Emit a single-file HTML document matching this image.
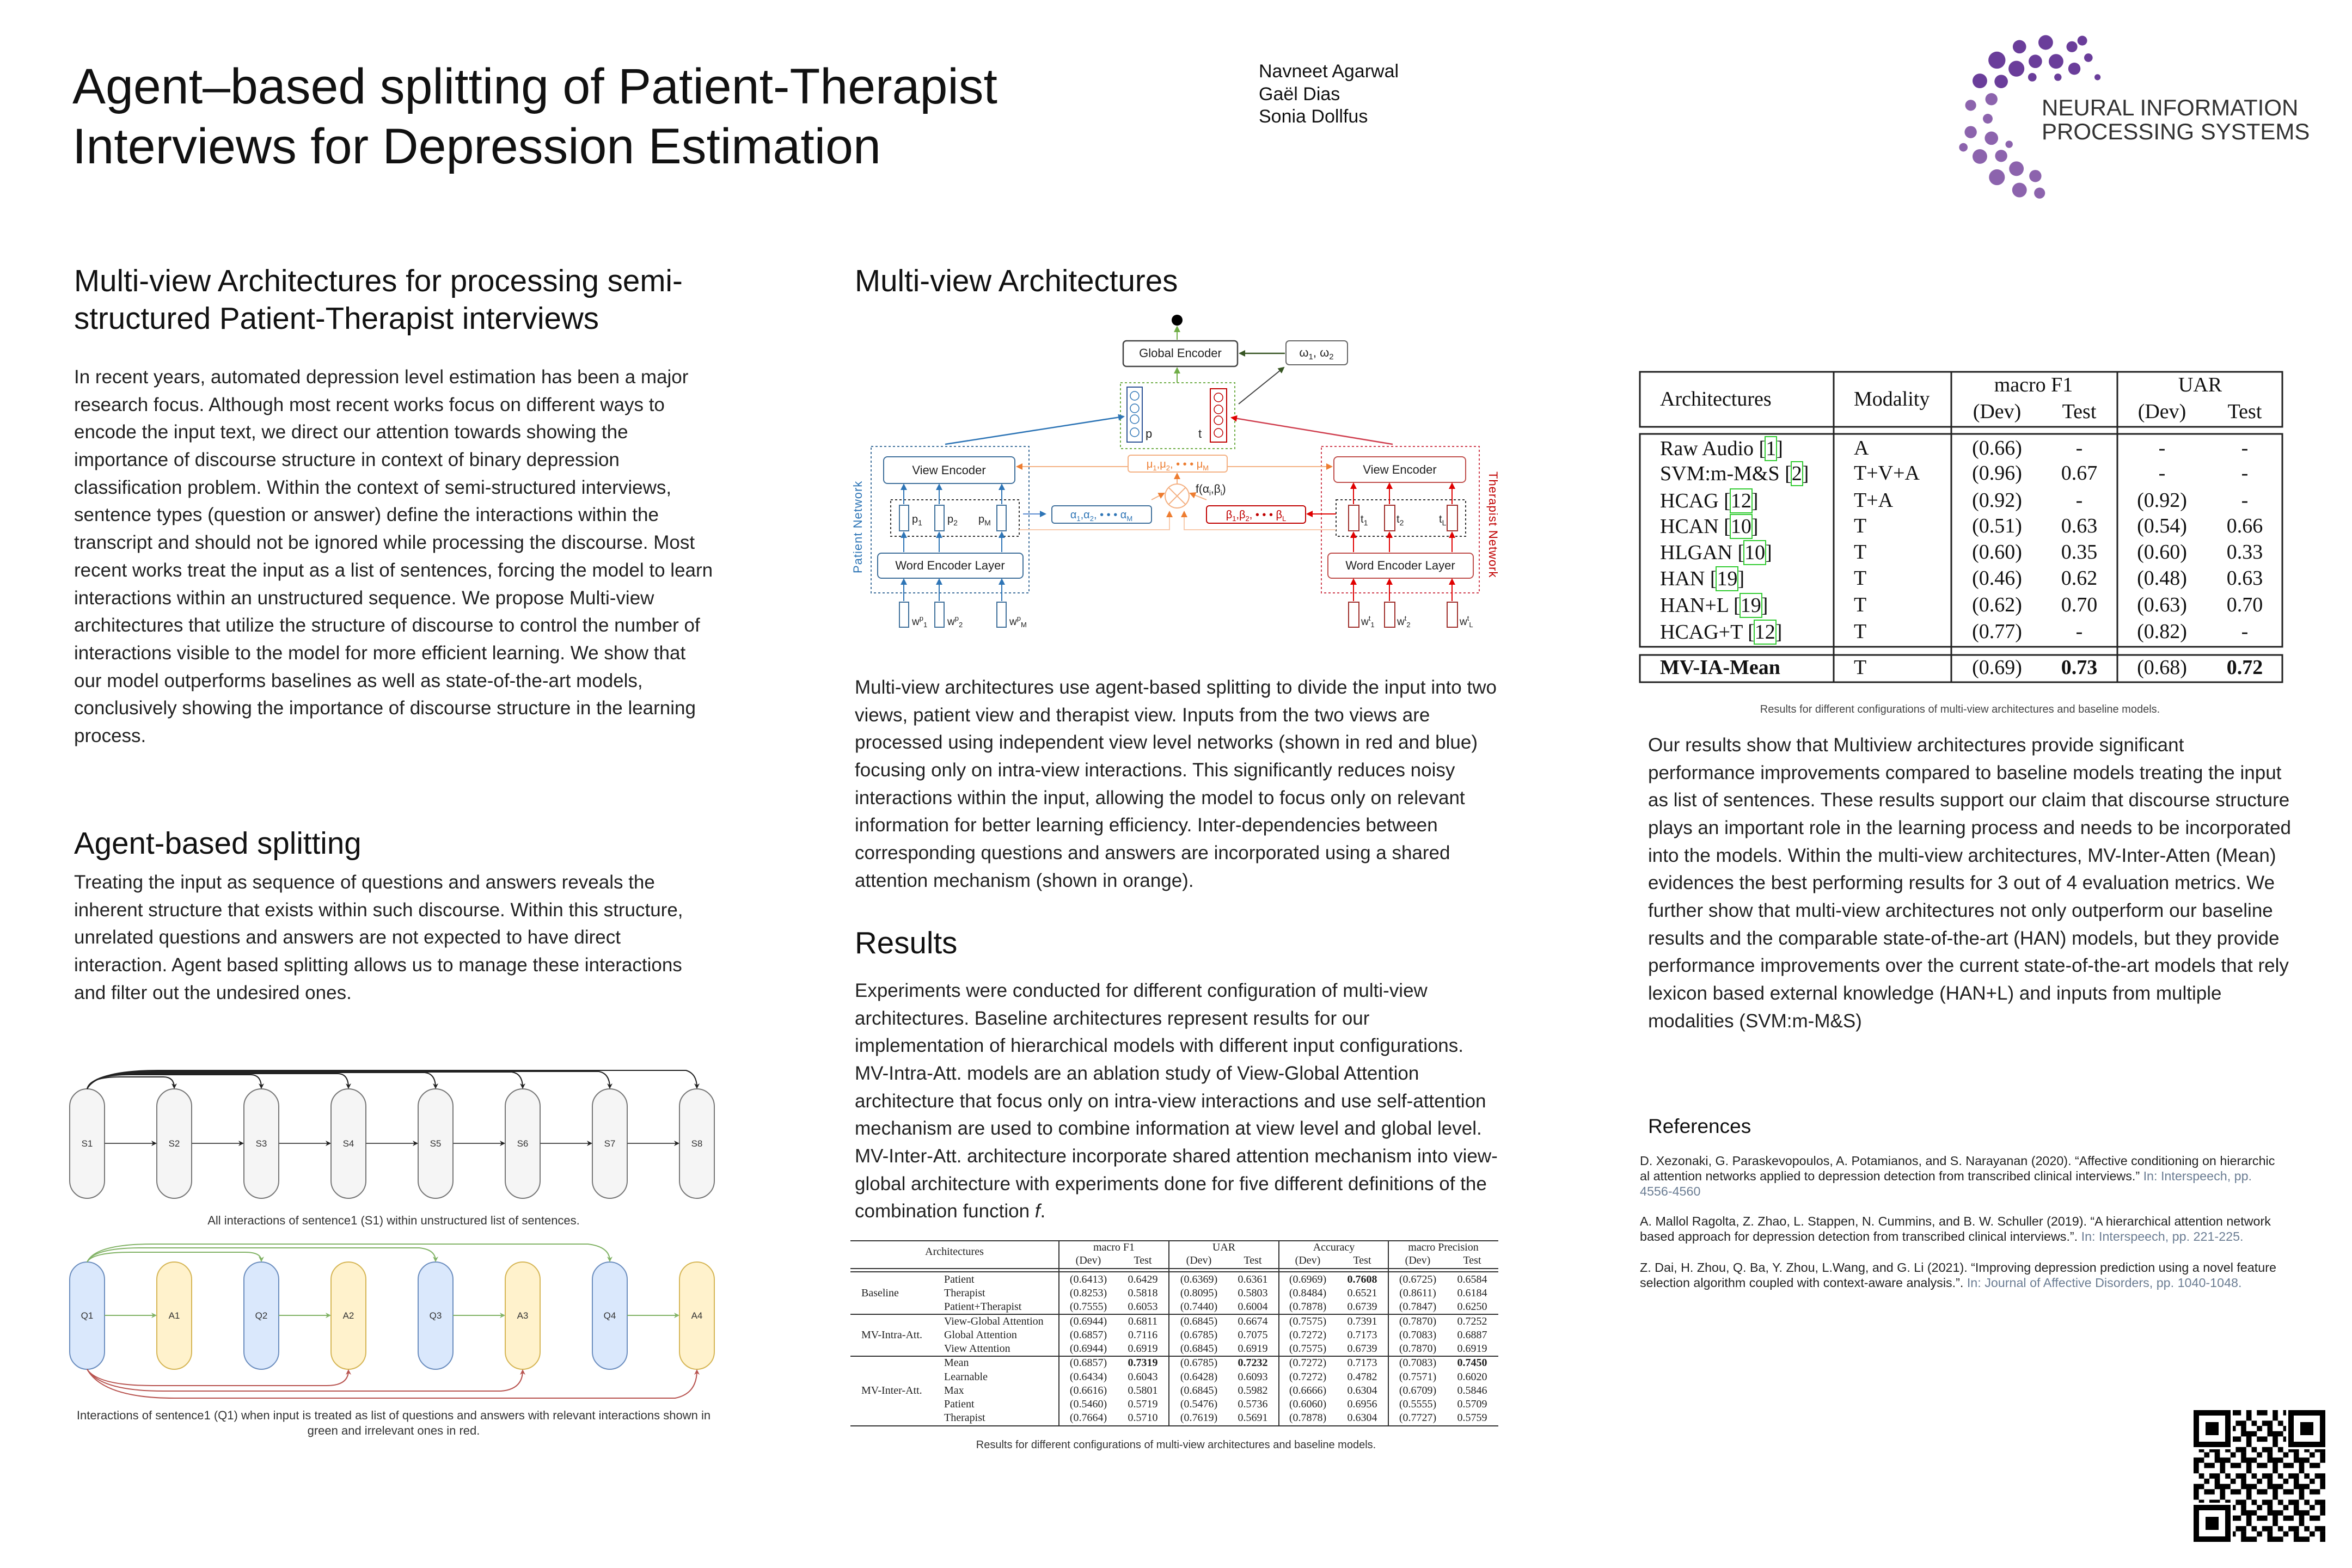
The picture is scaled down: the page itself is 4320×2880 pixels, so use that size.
<!DOCTYPE html>
<html><head><meta charset="utf-8">
<style>
html,body{margin:0;padding:0;background:#fff;}
#wrap{position:relative;width:4320px;height:2880px;overflow:hidden;background:#fff;}
svg{position:absolute;left:0;top:0;}
.nm{position:absolute;font-family:"Liberation Serif",serif;font-size:38px;color:#111;white-space:nowrap;line-height:1;}
.nm span{outline:2px solid #33cc33;outline-offset:0px;}
</style></head><body><div id="wrap">
<svg width="4320" height="2880" viewBox="0 0 4320 2880" xmlns="http://www.w3.org/2000/svg">
<defs>
<marker id="ak" markerWidth="10" markerHeight="10" refX="8" refY="5" orient="auto" markerUnits="userSpaceOnUse"><path d="M0,0 L10,5 L0,10 L3,5 z" fill="#222"/></marker>
<marker id="ag" markerWidth="10" markerHeight="10" refX="8" refY="5" orient="auto" markerUnits="userSpaceOnUse"><path d="M0,0 L10,5 L0,10 L3,5 z" fill="#82b366"/></marker>
<marker id="ar" markerWidth="10" markerHeight="10" refX="8" refY="5" orient="auto" markerUnits="userSpaceOnUse"><path d="M0,0 L10,5 L0,10 L3,5 z" fill="#b85450"/></marker>
<marker id="mb" markerWidth="12" markerHeight="12" refX="10" refY="6" orient="auto" markerUnits="userSpaceOnUse"><path d="M0,0 L12,6 L0,12 z" fill="#2e75b6"/></marker>
<marker id="mr" markerWidth="12" markerHeight="12" refX="10" refY="6" orient="auto" markerUnits="userSpaceOnUse"><path d="M0,0 L12,6 L0,12 z" fill="#e00000"/></marker>
<marker id="mo" markerWidth="12" markerHeight="12" refX="10" refY="6" orient="auto" markerUnits="userSpaceOnUse"><path d="M0,0 L12,6 L0,12 z" fill="#ed7d31"/></marker>
<marker id="mg" markerWidth="12" markerHeight="12" refX="10" refY="6" orient="auto" markerUnits="userSpaceOnUse"><path d="M0,0 L12,6 L0,12 z" fill="#70ad47"/></marker>
<marker id="md" markerWidth="12" markerHeight="12" refX="10" refY="6" orient="auto" markerUnits="userSpaceOnUse"><path d="M0,0 L12,6 L0,12 z" fill="#375623"/></marker>
<pattern id="qr" x="4029" y="2590" width="48.4" height="48.4" patternUnits="userSpaceOnUse">
<rect x="0" y="0" width="9.7" height="19.4" fill="#000"/><rect x="19.4" y="0" width="19.4" height="9.7" fill="#000"/>
<rect x="9.7" y="19.4" width="9.7" height="9.7" fill="#000"/><rect x="29" y="19.4" width="19.4" height="9.7" fill="#000"/>
<rect x="0" y="38.7" width="19.4" height="9.7" fill="#000"/><rect x="38.7" y="29" width="9.7" height="19.4" fill="#000"/>
<rect x="19.4" y="29" width="9.7" height="9.7" fill="#000"/>
</pattern>
</defs>

<g font-family="Liberation Sans, sans-serif" fill="#111">
<text x="133" y="190" font-size="91.5">Agent–based splitting of Patient-Therapist</text>
<text x="133" y="300" font-size="91.5">Interviews for Depression Estimation</text>
<text x="2312" y="142" font-size="34">Navneet Agarwal</text>
<text x="2312" y="184" font-size="34">Gaël Dias</text>
<text x="2312" y="225" font-size="34">Sonia Dollfus</text>
</g>

<!-- Logo -->
<g transform="translate(-45,0) translate(3780,218) scale(1.12) translate(-3780,-218)">
<g fill="#6a3d9a">
<circle cx="3847" cy="136" r="10"/><circle cx="3817" cy="124" r="12"/><circle cx="3783" cy="124" r="11"/><circle cx="3752" cy="136" r="13"/>
<circle cx="3843" cy="100" r="9"/><circle cx="3800" cy="93" r="12"/><circle cx="3757" cy="100" r="11"/><circle cx="3720" cy="122" r="14"/>
<circle cx="3870" cy="118" r="7"/><circle cx="3885" cy="150" r="5"/><circle cx="3860" cy="90" r="8"/><circle cx="3727" cy="157" r="11"/>
<circle cx="3692" cy="156" r="12"/><circle cx="3778" cy="150" r="7"/><circle cx="3820" cy="150" r="6"/>
</g>
<g fill="#8c63ad">
<circle cx="3711" cy="186" r="10"/><circle cx="3677" cy="196" r="9"/><circle cx="3705" cy="218" r="8"/><circle cx="3677" cy="240" r="10"/>
<circle cx="3711" cy="250" r="11"/><circle cx="3692" cy="280" r="12"/><circle cx="3727" cy="279" r="10"/><circle cx="3720" cy="314" r="13"/>
<circle cx="3752" cy="300" r="12"/><circle cx="3757" cy="335" r="12"/><circle cx="3783" cy="312" r="10"/><circle cx="3740" cy="260" r="6"/>
<circle cx="3665" cy="265" r="7"/><circle cx="3790" cy="340" r="9"/>
</g>
</g>
<g font-family="Liberation Sans, sans-serif" font-size="42" fill="#333">
<text x="3750" y="212">NEURAL INFORMATION</text>
<text x="3750" y="256">PROCESSING SYSTEMS</text>
</g>

<g font-family="Liberation Sans, sans-serif" fill="#111">
<text x="136" y="535" font-size="56.5">Multi-view Architectures for processing semi-</text>
<text x="136" y="604" font-size="56.5">structured Patient-Therapist interviews</text>
<text x="136" y="1568" font-size="56.5">Agent-based splitting</text>
<text x="1570" y="535" font-size="56.5">Multi-view Architectures</text>
<text x="1570" y="1751" font-size="56.5">Results</text>
<text x="3027" y="2081" font-size="37">References</text>
</g>
<g font-family="Liberation Sans, sans-serif" font-size="35" fill="#222">
<text x="136" y="704">In recent years, automated depression level estimation has been a major</text>
<text x="136" y="755">research focus. Although most recent works focus on different ways to</text>
<text x="136" y="805">encode the input text, we direct our attention towards showing the</text>
<text x="136" y="856">importance of discourse structure in context of binary depression</text>
<text x="136" y="907">classification problem. Within the context of semi-structured interviews,</text>
<text x="136" y="957">sentence types (question or answer) define the interactions within the</text>
<text x="136" y="1008">transcript and should not be ignored while processing the discourse. Most</text>
<text x="136" y="1059">recent works treat the input as a list of sentences, forcing the model to learn</text>
<text x="136" y="1110">interactions within an unstructured sequence. We propose Multi-view</text>
<text x="136" y="1160">architectures that utilize the structure of discourse to control the number of</text>
<text x="136" y="1211">interactions visible to the model for more efficient learning. We show that</text>
<text x="136" y="1262">our model outperforms baselines as well as state-of-the-art models,</text>
<text x="136" y="1312">conclusively showing the importance of discourse structure in the learning</text>
<text x="136" y="1363">process.</text>

<text x="136" y="1632">Treating the input as sequence of questions and answers reveals the</text>
<text x="136" y="1683">inherent structure that exists within such discourse. Within this structure,</text>
<text x="136" y="1733">unrelated questions and answers are not expected to have direct</text>
<text x="136" y="1784">interaction. Agent based splitting allows us to manage these interactions</text>
<text x="136" y="1835">and filter out the undesired ones.</text>

<text x="1570" y="1274">Multi-view architectures use agent-based splitting to divide the input into two</text>
<text x="1570" y="1325">views, patient view and therapist view. Inputs from the two views are</text>
<text x="1570" y="1375">processed using independent view level networks (shown in red and blue)</text>
<text x="1570" y="1426">focusing only on intra-view interactions. This significantly reduces noisy</text>
<text x="1570" y="1477">interactions within the input, allowing the model to focus only on relevant</text>
<text x="1570" y="1527">information for better learning efficiency. Inter-dependencies between</text>
<text x="1570" y="1578">corresponding questions and answers are incorporated using a shared</text>
<text x="1570" y="1629">attention mechanism (shown in orange).</text>

<text x="1570" y="1831">Experiments were conducted for different configuration of multi-view</text>
<text x="1570" y="1882">architectures. Baseline architectures represent results for our</text>
<text x="1570" y="1932">implementation of hierarchical models with different input configurations.</text>
<text x="1570" y="1983">MV-Intra-Att. models are an ablation study of View-Global Attention</text>
<text x="1570" y="2034">architecture that focus only on intra-view interactions and use self-attention</text>
<text x="1570" y="2084">mechanism are used to combine information at view level and global level.</text>
<text x="1570" y="2135">MV-Inter-Att. architecture incorporate shared attention mechanism into view-</text>
<text x="1570" y="2186">global architecture with experiments done for five different definitions of the</text>
<text x="1570" y="2236">combination function <tspan font-style="italic">f</tspan>.</text>

<text x="3027" y="1380">Our results show that Multiview architectures provide significant</text>
<text x="3027" y="1431">performance improvements compared to baseline models treating the input</text>
<text x="3027" y="1481">as list of sentences. These results support our claim that discourse structure</text>
<text x="3027" y="1532">plays an important role in the learning process and needs to be incorporated</text>
<text x="3027" y="1583">into the models. Within the multi-view architectures, MV-Inter-Atten (Mean)</text>
<text x="3027" y="1633">evidences the best performing results for 3 out of 4 evaluation metrics. We</text>
<text x="3027" y="1684">further show that multi-view architectures not only outperform our baseline</text>
<text x="3027" y="1735">results and the comparable state-of-the-art (HAN) models, but they provide</text>
<text x="3027" y="1785">performance improvements over the current state-of-the-art models that rely</text>
<text x="3027" y="1836">lexicon based external knowledge (HAN+L) and inputs from multiple</text>
<text x="3027" y="1887">modalities (SVM:m-M&amp;S)</text>
</g>

<g font-family="Liberation Sans, sans-serif" font-size="23.3" fill="#222">
<text x="3012" y="2140">D. Xezonaki, G. Paraskevopoulos, A. Potamianos, and S. Narayanan (2020). “Affective conditioning on hierarchic</text>
<text x="3012" y="2168">al attention networks applied to depression detection from transcribed clinical interviews.” <tspan fill="#6b7d93">In: Interspeech, pp.</tspan></text>
<text x="3012" y="2196" fill="#6b7d93">4556-4560</text>
<text x="3012" y="2251">A. Mallol Ragolta, Z. Zhao, L. Stappen, N. Cummins, and B. W. Schuller (2019). “A hierarchical attention network</text>
<text x="3012" y="2279">based approach for depression detection from transcribed clinical interviews.”. <tspan fill="#6b7d93">In: Interspeech, pp. 221-225.</tspan></text>
<text x="3012" y="2336">Z. Dai, H. Zhou, Q. Ba, Y. Zhou, L.Wang, and G. Li (2021). “Improving depression prediction using a novel feature</text>
<text x="3012" y="2364">selection algorithm coupled with context-aware analysis.”. <tspan fill="#6b7d93">In: Journal of Affective Disorders, pp. 1040-1048.</tspan></text>
</g>

<rect x="4029" y="2590" width="242" height="242" fill="url(#qr)"/>
<g>
<rect x="4029" y="2590" width="72" height="72" fill="#fff"/><rect x="4199" y="2590" width="72" height="72" fill="#fff"/><rect x="4029" y="2760" width="72" height="72" fill="#fff"/>
<rect x="4034" y="2595" width="58" height="58" fill="none" stroke="#000" stroke-width="10"/><rect x="4051" y="2612" width="24" height="24" fill="#000"/>
<rect x="4208" y="2595" width="58" height="58" fill="none" stroke="#000" stroke-width="10"/><rect x="4225" y="2612" width="24" height="24" fill="#000"/>
<rect x="4034" y="2769" width="58" height="58" fill="none" stroke="#000" stroke-width="10"/><rect x="4051" y="2786" width="24" height="24" fill="#000"/>
</g>

<g font-family="Liberation Sans, sans-serif" font-size="17" fill="#333" text-anchor="middle">
<g fill="#f5f5f5" stroke="#777" stroke-width="2">
<rect x="128" y="2000" width="64" height="201" rx="32"/><rect x="288" y="2000" width="64" height="201" rx="32"/>
<rect x="448" y="2000" width="64" height="201" rx="32"/><rect x="608" y="2000" width="64" height="201" rx="32"/>
<rect x="768" y="2000" width="64" height="201" rx="32"/><rect x="928" y="2000" width="64" height="201" rx="32"/>
<rect x="1088" y="2000" width="64" height="201" rx="32"/><rect x="1248" y="2000" width="64" height="201" rx="32"/>
</g>
<text x="160" y="2106">S1</text><text x="320" y="2106">S2</text><text x="480" y="2106">S3</text><text x="640" y="2106">S4</text>
<text x="800" y="2106">S5</text><text x="960" y="2106">S6</text><text x="1120" y="2106">S7</text><text x="1280" y="2106">S8</text>
<g stroke="#555" stroke-width="2" fill="none" marker-end="url(#ak)">
<path d="M192 2100 H286"/><path d="M352 2100 H446"/><path d="M512 2100 H606"/><path d="M672 2100 H766"/>
<path d="M832 2100 H926"/><path d="M992 2100 H1086"/><path d="M1152 2100 H1246"/>
</g>
<g stroke="#222" stroke-width="2" fill="none" marker-end="url(#ak)">
<path d="M160 2000 Q165 1978 220 1978 L300 1978 Q320 1978 320 1998"/>
<path d="M160 2000 Q168 1974 240 1974 L460 1974 Q480 1974 480 1998"/>
<path d="M160 2000 Q170 1972 250 1972 L620 1972 Q640 1972 640 1998"/>
<path d="M160 2000 Q172 1970 260 1970 L780 1970 Q800 1972 800 1998"/>
<path d="M160 2000 Q174 1969 270 1969 L940 1969 Q960 1972 960 1998"/>
<path d="M160 2000 Q176 1968 280 1968 L1100 1968 Q1120 1972 1120 1998"/>
<path d="M160 2000 Q178 1966 290 1966 L1260 1966 Q1280 1972 1280 1998"/>
</g>
<text x="723" y="2249" font-size="22">All interactions of sentence1 (S1) within unstructured list of sentences.</text>

<g stroke-width="2">
<rect x="128" y="2318" width="64" height="197" rx="32" fill="#dae8fc" stroke="#6c8ebf"/>
<rect x="288" y="2318" width="64" height="197" rx="32" fill="#fff2cc" stroke="#d6b656"/>
<rect x="448" y="2318" width="64" height="197" rx="32" fill="#dae8fc" stroke="#6c8ebf"/>
<rect x="608" y="2318" width="64" height="197" rx="32" fill="#fff2cc" stroke="#d6b656"/>
<rect x="768" y="2318" width="64" height="197" rx="32" fill="#dae8fc" stroke="#6c8ebf"/>
<rect x="928" y="2318" width="64" height="197" rx="32" fill="#fff2cc" stroke="#d6b656"/>
<rect x="1088" y="2318" width="64" height="197" rx="32" fill="#dae8fc" stroke="#6c8ebf"/>
<rect x="1248" y="2318" width="64" height="197" rx="32" fill="#fff2cc" stroke="#d6b656"/>
</g>
<text x="160" y="2422">Q1</text><text x="320" y="2422">A1</text><text x="480" y="2422">Q2</text><text x="640" y="2422">A2</text>
<text x="800" y="2422">Q3</text><text x="960" y="2422">A3</text><text x="1120" y="2422">Q4</text><text x="1280" y="2422">A4</text>
<g stroke="#82b366" stroke-width="2" fill="none" marker-end="url(#ag)">
<path d="M192 2416 H286"/><path d="M512 2416 H606"/><path d="M832 2416 H926"/><path d="M1152 2416 H1246"/>
<path d="M160 2318 Q170 2300 240 2300 L450 2300 Q480 2300 480 2316"/>
<path d="M160 2318 Q172 2292 260 2292 L770 2292 Q800 2295 800 2316"/>
<path d="M160 2318 Q175 2285 280 2285 L1080 2285 Q1120 2290 1120 2316"/>
</g>
<g stroke="#b85450" stroke-width="2" fill="none" marker-end="url(#ar)">
<path d="M160 2515 Q180 2545 280 2545 L600 2545 Q640 2545 640 2517"/>
<path d="M160 2515 Q185 2555 300 2555 L920 2555 Q960 2552 960 2517"/>
<path d="M160 2515 Q190 2568 320 2568 L1240 2568 Q1280 2560 1280 2517"/>
</g>
<text x="723" y="2607" font-size="22">Interactions of sentence1 (Q1) when input is treated as list of questions and answers with relevant interactions shown in</text>
<text x="723" y="2635" font-size="22">green and irrelevant ones in red.</text>
</g>

<g font-family="Liberation Sans, sans-serif" font-size="22" fill="#222">
<circle cx="2162" cy="588" r="10" fill="#000"/>
<line x1="2162" y1="624" x2="2162" y2="600" stroke="#70ad47" stroke-width="2" marker-end="url(#mg)"/>
<rect x="2063" y="626" width="210" height="47" rx="6" fill="#fff" stroke="#444" stroke-width="2.5"/>
<text x="2168" y="656" text-anchor="middle">Global Encoder</text>
<rect x="2362" y="626" width="113" height="44" rx="6" fill="#fff" stroke="#666" stroke-width="2"/>
<text x="2418" y="655" text-anchor="middle">ω<tspan font-size="15" dy="5">1</tspan><tspan dy="-5">, ω</tspan><tspan font-size="15" dy="5">2</tspan></text>
<line x1="2360" y1="649" x2="2277" y2="649" stroke="#375623" stroke-width="2.5" marker-end="url(#md)"/>
<line x1="2162" y1="703" x2="2162" y2="676" stroke="#70ad47" stroke-width="2" marker-end="url(#mg)"/>
<rect x="2058" y="703" width="210" height="121" fill="none" stroke="#70ad47" stroke-width="2" stroke-dasharray="4 4"/>
<rect x="2070" y="711" width="28" height="101" fill="none" stroke="#2f5597" stroke-width="2"/>
<g fill="none" stroke="#2e75b6" stroke-width="1.5"><circle cx="2084" cy="727" r="8"/><circle cx="2084" cy="750" r="8"/><circle cx="2084" cy="770" r="8"/><circle cx="2084" cy="794" r="8"/></g>
<rect x="2223" y="714" width="30" height="98" fill="none" stroke="#c00000" stroke-width="2"/>
<g fill="none" stroke="#c00000" stroke-width="1.5"><circle cx="2238" cy="730" r="8"/><circle cx="2238" cy="752" r="8"/><circle cx="2238" cy="772" r="8"/><circle cx="2238" cy="795" r="8"/></g>
<text x="2104" y="804">p</text><text x="2201" y="804">t</text>
<line x1="2275" y1="742" x2="2358" y2="675" stroke="#444" stroke-width="2" marker-end="url(#md)"/>
<line x1="1736" y1="816" x2="2064" y2="765" stroke="#2e75b6" stroke-width="2.5" marker-end="url(#mb)"/>
<line x1="2558" y1="816" x2="2262" y2="767" stroke="#d04050" stroke-width="2.5" marker-end="url(#mr)"/>

<rect x="1600" y="820" width="290" height="269" fill="none" stroke="#41719c" stroke-width="2" stroke-dasharray="4 4"/>
<rect x="1623" y="839" width="241" height="49" rx="7" fill="#fff" stroke="#41719c" stroke-width="2"/>
<text x="1743" y="871" text-anchor="middle">View Encoder</text>
<rect x="1636" y="918" width="236" height="67" fill="none" stroke="#333" stroke-width="2" stroke-dasharray="4 4"/>
<g fill="#fff" stroke="#41719c" stroke-width="2">
<rect x="1652" y="928" width="17" height="47"/><rect x="1717" y="928" width="17" height="47"/><rect x="1831" y="928" width="17" height="47"/>
<rect x="1652" y="1106" width="17" height="46"/><rect x="1717" y="1106" width="17" height="46"/><rect x="1831" y="1106" width="17" height="46"/>
</g>
<text x="1675" y="960" font-size="20">p<tspan font-size="14" dy="5">1</tspan></text>
<text x="1740" y="960" font-size="20">p<tspan font-size="14" dy="5">2</tspan></text>
<text x="1797" y="960" font-size="20">p<tspan font-size="14" dy="5">M</tspan></text>
<rect x="1612" y="1016" width="267" height="46" rx="7" fill="#fff" stroke="#41719c" stroke-width="2"/>
<text x="1745" y="1046" text-anchor="middle">Word Encoder Layer</text>
<text x="1675" y="1148" font-size="19">w<tspan font-size="13" dy="-8">p</tspan><tspan font-size="13" dy="12">1</tspan></text>
<text x="1740" y="1148" font-size="19">w<tspan font-size="13" dy="-8">p</tspan><tspan font-size="13" dy="12">2</tspan></text>
<text x="1854" y="1148" font-size="19">w<tspan font-size="13" dy="-8">p</tspan><tspan font-size="13" dy="12">M</tspan></text>
<g stroke="#2e75b6" stroke-width="2" marker-end="url(#mb)">
<line x1="1660" y1="1104" x2="1660" y2="1064"/><line x1="1725" y1="1104" x2="1725" y2="1064"/><line x1="1840" y1="1104" x2="1840" y2="1064"/>
<line x1="1660" y1="1014" x2="1660" y2="978"/><line x1="1725" y1="1014" x2="1725" y2="978"/><line x1="1840" y1="1014" x2="1840" y2="978"/>
<line x1="1660" y1="926" x2="1660" y2="890"/><line x1="1725" y1="926" x2="1725" y2="890"/><line x1="1840" y1="926" x2="1840" y2="890"/>
<line x1="1879" y1="944" x2="1920" y2="944" stroke="#5b8bd0"/>
</g>
<text transform="translate(1583,1053) rotate(-90)" fill="#2e75b6" font-size="22" letter-spacing="1">Patient Network</text>

<rect x="2427" y="820" width="290" height="269" fill="none" stroke="#d04050" stroke-width="2" stroke-dasharray="4 4"/>
<rect x="2450" y="839" width="242" height="47" rx="7" fill="#fff" stroke="#c0504d" stroke-width="2"/>
<text x="2571" y="870" text-anchor="middle">View Encoder</text>
<rect x="2454" y="918" width="238" height="67" fill="none" stroke="#333" stroke-width="2" stroke-dasharray="4 4"/>
<g fill="#fff" stroke="#a0302d" stroke-width="2">
<rect x="2477" y="928" width="19" height="47"/><rect x="2543" y="928" width="19" height="47"/><rect x="2658" y="928" width="19" height="47"/>
<rect x="2477" y="1106" width="19" height="46"/><rect x="2543" y="1106" width="19" height="46"/><rect x="2658" y="1106" width="19" height="46"/>
</g>
<text x="2499" y="960" font-size="20">t<tspan font-size="14" dy="5">1</tspan></text>
<text x="2565" y="960" font-size="20">t<tspan font-size="14" dy="5">2</tspan></text>
<text x="2643" y="960" font-size="20">t<tspan font-size="14" dy="5">L</tspan></text>
<rect x="2439" y="1016" width="267" height="46" rx="7" fill="#fff" stroke="#c0504d" stroke-width="2"/>
<text x="2572" y="1046" text-anchor="middle">Word Encoder Layer</text>
<text x="2500" y="1148" font-size="19">w<tspan font-size="13" dy="-8">t</tspan><tspan font-size="13" dy="12">1</tspan></text>
<text x="2566" y="1148" font-size="19">w<tspan font-size="13" dy="-8">t</tspan><tspan font-size="13" dy="12">2</tspan></text>
<text x="2681" y="1148" font-size="19">w<tspan font-size="13" dy="-8">t</tspan><tspan font-size="13" dy="12">L</tspan></text>
<g stroke="#e00000" stroke-width="2" marker-end="url(#mr)">
<line x1="2486" y1="1104" x2="2486" y2="1064"/><line x1="2552" y1="1104" x2="2552" y2="1064"/><line x1="2667" y1="1104" x2="2667" y2="1064"/>
<line x1="2486" y1="1014" x2="2486" y2="978"/><line x1="2552" y1="1014" x2="2552" y2="978"/><line x1="2667" y1="1014" x2="2667" y2="978"/>
<line x1="2486" y1="926" x2="2486" y2="888"/><line x1="2552" y1="926" x2="2552" y2="888"/><line x1="2667" y1="926" x2="2667" y2="888"/>
<line x1="2454" y1="944" x2="2401" y2="944"/>
</g>
<text transform="translate(2735,866) rotate(90)" fill="#c00000" font-size="22" letter-spacing="1">Therapist Network</text>

<rect x="2072" y="836" width="182" height="31" rx="5" fill="#fff" stroke="#f4b183" stroke-width="2"/>
<text x="2163" y="859" text-anchor="middle" fill="#ed7d31" font-size="20">μ<tspan font-size="13" dy="5">1</tspan><tspan dy="-5">,μ</tspan><tspan font-size="13" dy="5">2</tspan><tspan dy="-5">, • • • μ</tspan><tspan font-size="13" dy="5">M</tspan></text>
<g stroke="#f4b183" stroke-width="2" marker-end="url(#mo)">
<line x1="2072" y1="857" x2="1868" y2="857"/><line x1="2254" y1="857" x2="2446" y2="857"/>
<line x1="2162" y1="888" x2="2162" y2="870"/>
<line x1="2115" y1="918" x2="2138" y2="906"/><line x1="2216" y1="918" x2="2186" y2="906"/>
</g>
<circle cx="2162" cy="911" r="22" fill="#fff" stroke="#f4b183" stroke-width="2"/>
<line x1="2147" y1="896" x2="2177" y2="926" stroke="#f4b183" stroke-width="2"/><line x1="2177" y1="896" x2="2147" y2="926" stroke="#f4b183" stroke-width="2"/>
<text x="2196" y="905" font-size="21">f(α<tspan font-size="13" dy="5">i</tspan><tspan dy="-5">,β</tspan><tspan font-size="13" dy="5">i</tspan><tspan dy="-5">)</tspan></text>
<polyline points="1872,973 2148,973 2148,940" fill="none" stroke="#f8cbad" stroke-width="2" marker-end="url(#mo)"/>
<polyline points="2454,973 2175,973 2175,940" fill="none" stroke="#f8cbad" stroke-width="2" marker-end="url(#mo)"/>
<rect x="1932" y="929" width="183" height="32" rx="5" fill="#fff" stroke="#41719c" stroke-width="2"/>
<text x="2023" y="952" text-anchor="middle" fill="#2e75b6" font-size="20">α<tspan font-size="13" dy="5">1</tspan><tspan dy="-5">,α</tspan><tspan font-size="13" dy="5">2</tspan><tspan dy="-5">, • • • α</tspan><tspan font-size="13" dy="5">M</tspan></text>
<rect x="2216" y="929" width="182" height="32" rx="5" fill="#fff" stroke="#c00000" stroke-width="2"/>
<text x="2307" y="952" text-anchor="middle" fill="#c00000" font-size="20">β<tspan font-size="13" dy="5">1</tspan><tspan dy="-5">,β</tspan><tspan font-size="13" dy="5">2</tspan><tspan dy="-5">, • • • β</tspan><tspan font-size="13" dy="5">L</tspan></text>
</g>

<g font-family="Liberation Serif, serif" font-size="20" fill="#222">
<g stroke="#333" stroke-width="2">
<line x1="1562" y1="2279" x2="2752" y2="2279"/><line x1="1562" y1="2330" x2="2752" y2="2330"/><line x1="1562" y1="2336" x2="2752" y2="2336"/>
<line x1="1562" y1="2414" x2="2752" y2="2414"/><line x1="1562" y1="2491" x2="2752" y2="2491"/><line x1="1562" y1="2619" x2="2752" y2="2619"/>
<line x1="1945" y1="2279" x2="1945" y2="2619"/><line x1="2147" y1="2279" x2="2147" y2="2619"/><line x1="2349" y1="2279" x2="2349" y2="2619"/><line x1="2550" y1="2279" x2="2550" y2="2619"/>
</g>
<g text-anchor="middle">
<text x="1753" y="2305">Architectures</text>
<text x="2046" y="2297">macro F1</text><text x="2248" y="2297">UAR</text><text x="2450" y="2297">Accuracy</text><text x="2651" y="2297">macro Precision</text>
<text x="1999" y="2321">(Dev)</text><text x="2099" y="2321">Test</text><text x="2202" y="2321">(Dev)</text><text x="2301" y="2321">Test</text>
<text x="2402" y="2321">(Dev)</text><text x="2502" y="2321">Test</text><text x="2604" y="2321">(Dev)</text><text x="2704" y="2321">Test</text>
</g>
<text x="1582" y="2381">Baseline</text><text x="1582" y="2458">MV-Intra-Att.</text><text x="1582" y="2560">MV-Inter-Att.</text>
<text x="1734" y="2356">Patient</text><text x="1734" y="2381">Therapist</text><text x="1734" y="2406">Patient+Therapist</text>
<text x="1734" y="2433">View-Global Attention</text><text x="1734" y="2458">Global Attention</text><text x="1734" y="2483">View Attention</text>
<text x="1734" y="2509">Mean</text><text x="1734" y="2535">Learnable</text><text x="1734" y="2560">Max</text><text x="1734" y="2585">Patient</text><text x="1734" y="2610">Therapist</text>
<g text-anchor="middle">
<text y="2356"><tspan x="1999">(0.6413)</tspan><tspan x="2099">0.6429</tspan><tspan x="2202">(0.6369)</tspan><tspan x="2301">0.6361</tspan><tspan x="2402">(0.6969)</tspan><tspan x="2502" font-weight="bold">0.7608</tspan><tspan x="2604">(0.6725)</tspan><tspan x="2704">0.6584</tspan></text>
<text y="2381"><tspan x="1999">(0.8253)</tspan><tspan x="2099">0.5818</tspan><tspan x="2202">(0.8095)</tspan><tspan x="2301">0.5803</tspan><tspan x="2402">(0.8484)</tspan><tspan x="2502">0.6521</tspan><tspan x="2604">(0.8611)</tspan><tspan x="2704">0.6184</tspan></text>
<text y="2406"><tspan x="1999">(0.7555)</tspan><tspan x="2099">0.6053</tspan><tspan x="2202">(0.7440)</tspan><tspan x="2301">0.6004</tspan><tspan x="2402">(0.7878)</tspan><tspan x="2502">0.6739</tspan><tspan x="2604">(0.7847)</tspan><tspan x="2704">0.6250</tspan></text>
<text y="2433"><tspan x="1999">(0.6944)</tspan><tspan x="2099">0.6811</tspan><tspan x="2202">(0.6845)</tspan><tspan x="2301">0.6674</tspan><tspan x="2402">(0.7575)</tspan><tspan x="2502">0.7391</tspan><tspan x="2604">(0.7870)</tspan><tspan x="2704">0.7252</tspan></text>
<text y="2458"><tspan x="1999">(0.6857)</tspan><tspan x="2099">0.7116</tspan><tspan x="2202">(0.6785)</tspan><tspan x="2301">0.7075</tspan><tspan x="2402">(0.7272)</tspan><tspan x="2502">0.7173</tspan><tspan x="2604">(0.7083)</tspan><tspan x="2704">0.6887</tspan></text>
<text y="2483"><tspan x="1999">(0.6944)</tspan><tspan x="2099">0.6919</tspan><tspan x="2202">(0.6845)</tspan><tspan x="2301">0.6919</tspan><tspan x="2402">(0.7575)</tspan><tspan x="2502">0.6739</tspan><tspan x="2604">(0.7870)</tspan><tspan x="2704">0.6919</tspan></text>
<text y="2509"><tspan x="1999">(0.6857)</tspan><tspan x="2099" font-weight="bold">0.7319</tspan><tspan x="2202">(0.6785)</tspan><tspan x="2301" font-weight="bold">0.7232</tspan><tspan x="2402">(0.7272)</tspan><tspan x="2502">0.7173</tspan><tspan x="2604">(0.7083)</tspan><tspan x="2704" font-weight="bold">0.7450</tspan></text>
<text y="2535"><tspan x="1999">(0.6434)</tspan><tspan x="2099">0.6043</tspan><tspan x="2202">(0.6428)</tspan><tspan x="2301">0.6093</tspan><tspan x="2402">(0.7272)</tspan><tspan x="2502">0.4782</tspan><tspan x="2604">(0.7571)</tspan><tspan x="2704">0.6020</tspan></text>
<text y="2560"><tspan x="1999">(0.6616)</tspan><tspan x="2099">0.5801</tspan><tspan x="2202">(0.6845)</tspan><tspan x="2301">0.5982</tspan><tspan x="2402">(0.6666)</tspan><tspan x="2502">0.6304</tspan><tspan x="2604">(0.6709)</tspan><tspan x="2704">0.5846</tspan></text>
<text y="2585"><tspan x="1999">(0.5460)</tspan><tspan x="2099">0.5719</tspan><tspan x="2202">(0.5476)</tspan><tspan x="2301">0.5736</tspan><tspan x="2402">(0.6060)</tspan><tspan x="2502">0.6956</tspan><tspan x="2604">(0.5555)</tspan><tspan x="2704">0.5709</tspan></text>
<text y="2610"><tspan x="1999">(0.7664)</tspan><tspan x="2099">0.5710</tspan><tspan x="2202">(0.7619)</tspan><tspan x="2301">0.5691</tspan><tspan x="2402">(0.7878)</tspan><tspan x="2502">0.6304</tspan><tspan x="2604">(0.7727)</tspan><tspan x="2704">0.5759</tspan></text>
</g>
<text x="2160" y="2660" text-anchor="middle" font-family="Liberation Sans, sans-serif" font-size="20" fill="#333">Results for different configurations of multi-view architectures and baseline models.</text>
</g>

<g font-family="Liberation Serif, serif" font-size="38" fill="#111">
<g fill="none" stroke="#222" stroke-width="3">
<rect x="3012" y="683" width="1180" height="101"/>
<rect x="3012" y="797" width="1180" height="391"/>
<rect x="3012" y="1203" width="1180" height="50"/>
<line x1="3368" y1="683" x2="3368" y2="1253"/><line x1="3584" y1="683" x2="3584" y2="1253"/><line x1="3889" y1="683" x2="3889" y2="1253"/>
</g>
<text x="3049" y="745">Architectures</text>
<text x="3405" y="745">Modality</text>
<g text-anchor="middle">
<text x="3735" y="719">macro F1</text><text x="4041" y="719">UAR</text>
<text x="3668" y="768">(Dev)</text><text x="3819" y="768">Test</text><text x="3971" y="768">(Dev)</text><text x="4123" y="768">Test</text>
</g>
<g>
<text x="3405" y="835">A</text><text x="3405" y="881">T+V+A</text><text x="3405" y="931">T+A</text><text x="3405" y="978">T</text>
<text x="3405" y="1026">T</text><text x="3405" y="1074">T</text><text x="3405" y="1123">T</text><text x="3405" y="1172">T</text><text x="3405" y="1238">T</text>
</g>
<g text-anchor="middle">
<text y="835"><tspan x="3668">(0.66)</tspan><tspan x="3819">-</tspan><tspan x="3971">-</tspan><tspan x="4123">-</tspan></text>
<text y="881"><tspan x="3668">(0.96)</tspan><tspan x="3819">0.67</tspan><tspan x="3971">-</tspan><tspan x="4123">-</tspan></text>
<text y="931"><tspan x="3668">(0.92)</tspan><tspan x="3819">-</tspan><tspan x="3971">(0.92)</tspan><tspan x="4123">-</tspan></text>
<text y="978"><tspan x="3668">(0.51)</tspan><tspan x="3819">0.63</tspan><tspan x="3971">(0.54)</tspan><tspan x="4123">0.66</tspan></text>
<text y="1026"><tspan x="3668">(0.60)</tspan><tspan x="3819">0.35</tspan><tspan x="3971">(0.60)</tspan><tspan x="4123">0.33</tspan></text>
<text y="1074"><tspan x="3668">(0.46)</tspan><tspan x="3819">0.62</tspan><tspan x="3971">(0.48)</tspan><tspan x="4123">0.63</tspan></text>
<text y="1123"><tspan x="3668">(0.62)</tspan><tspan x="3819">0.70</tspan><tspan x="3971">(0.63)</tspan><tspan x="4123">0.70</tspan></text>
<text y="1172"><tspan x="3668">(0.77)</tspan><tspan x="3819">-</tspan><tspan x="3971">(0.82)</tspan><tspan x="4123">-</tspan></text>
<text y="1238"><tspan x="3668">(0.69)</tspan><tspan x="3819" font-weight="bold">0.73</tspan><tspan x="3971">(0.68)</tspan><tspan x="4123" font-weight="bold">0.72</tspan></text>
</g>
<text x="3049" y="1238" font-weight="bold">MV-IA-Mean</text>
<text x="3600" y="1309" text-anchor="middle" font-family="Liberation Sans, sans-serif" font-size="20" fill="#444">Results for different configurations of multi-view architectures and baseline models.</text>
</g>
</svg>
<div class="nm" style="left:3049px;top:805px;">Raw Audio [<span>1</span>]</div>
<div class="nm" style="left:3049px;top:851px;">SVM:m-M&amp;S [<span>2</span>]</div>
<div class="nm" style="left:3049px;top:901px;">HCAG [<span>12</span>]</div>
<div class="nm" style="left:3049px;top:948px;">HCAN [<span>10</span>]</div>
<div class="nm" style="left:3049px;top:996px;">HLGAN [<span>10</span>]</div>
<div class="nm" style="left:3049px;top:1044px;">HAN [<span>19</span>]</div>
<div class="nm" style="left:3049px;top:1093px;">HAN+L [<span>19</span>]</div>
<div class="nm" style="left:3049px;top:1142px;">HCAG+T [<span>12</span>]</div>
</div></body></html>
